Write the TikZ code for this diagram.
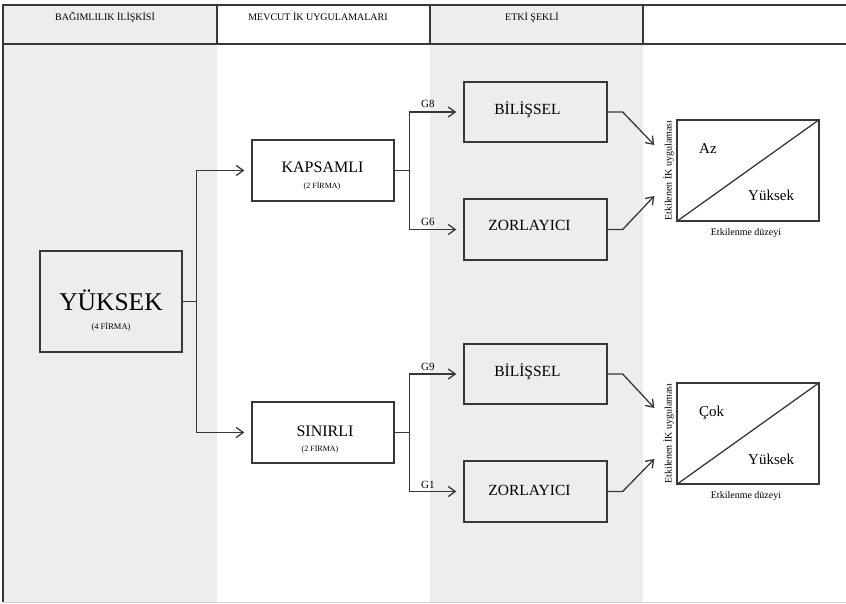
\documentclass[tikz,border=0pt]{standalone}
\usepackage{fontspec}
\setmainfont{Liberation Serif}
\usetikzlibrary{arrows.meta,calc}

\definecolor{ink}{HTML}{383838}
\definecolor{colbg}{HTML}{EDEDED}
\newcommand\setfs[1]{\fontsize{#1}{#1}\selectfont}

\begin{document}
\begin{tikzpicture}[x=1pt,y=-1pt,
  frame/.style={draw=ink, line width=1.3pt},
  box/.style={draw=ink, line width=1.3pt, rectangle, inner sep=0pt,
              minimum width=143pt, minimum height=61pt},
  conn/.style={draw=ink, line width=1.3pt,
               -{Straight Barb[length=7pt,width=10pt]}, shorten >=7pt},
  diag/.style={draw=ink, line width=1.3pt,
               -{Straight Barb[length=7pt,width=10pt]}},
  head/.style={anchor=base, inner sep=0pt, font=\setfs{10}},
  big/.style={anchor=base, inner sep=0pt, font=\setfs{15.5}},
  small/.style={anchor=base, inner sep=0pt, font=\setfs{8}},
  glabel/.style={anchor=base west, inner sep=0pt, font=\setfs{11}},
  chartword/.style={anchor=base west, inner sep=0pt, font=\setfs{15}},
  axis/.style={anchor=base, inner sep=0pt, font=\setfs{10}},
]
\useasboundingbox (0,0) rectangle (846,604);

% shaded columns
\fill[colbg] (3,5) rectangle (217,602);
\fill[colbg] (430,5) rectangle (643,602);

% table frame and header row
\draw[frame] (846,5) -- (3,5) -- (3,602);
\draw[frame] (3,44) -- (846,44);
\draw[frame] (217,5) -- (217,44);
\draw[frame] (430,5) -- (430,44);
\draw[frame] (643,5) -- (643,44);
\draw[draw=gray!35, line width=1pt] (3,602) -- (846,602);

\node[head] (h1) at (105,21) {BAĞIMLILIK İLİŞKİSİ};
\node[head] (h2) at (318,21) {MEVCUT İK UYGULAMALARI};
\node[head] (h3) at (532,21) {ETKİ ŞEKLİ};

% boxes
\node[box, minimum width=142pt, minimum height=101pt] (yuksek) at (111,301.5) {};
\node[box, minimum width=142pt] (kapsamli) at (323,170.5) {};
\node[box, minimum width=142pt] (sinirli) at (323,432.5) {};
\node[box, minimum height=60pt] (bil1) at (535.5,112) {};
\node[box] (zor1) at (535.5,229.5) {};
\node[box, minimum height=60pt] (bil2) at (535.5,374) {};
\node[box] (zor2) at (535.5,491.5) {};
\node[box, minimum width=142pt, minimum height=101pt] (chart1) at (748,170.5) {};
\node[box, minimum width=142pt, minimum height=101pt] (chart2) at (748,433.5) {};

% box texts
\node[anchor=base, inner sep=0pt, font=\setfs{25.5}] (tyuksek) at (111,310) {YÜKSEK};
\node[small, font=\setfs{8.5}] (tyuksekn) at (111,329) {(4 FİRMA)};
\node[big, font=\setfs{16}] (tkapsamli) at (322.5,172.5) {KAPSAMLI};
\node[small] (tkapsamlin) at (322,188.5) {(2 FİRMA)};
\node[big, font=\setfs{16}] (tsinirli) at (325,436) {SINIRLI};
\node[small] (tsinirlin) at (320,451.5) {(2 FİRMA)};
\node[big] (tbil1) at (527.5,114.5) {BİLİŞSEL};
\node[big] (tzor1) at (529.5,230.5) {ZORLAYICI};
\node[big] (tbil2) at (527.5,376.5) {BİLİŞSEL};
\node[big] (tzor2) at (529.5,495) {ZORLAYICI};

% connectors from YÜKSEK
\draw[conn] (yuksek.east) -- ++(14,0) coordinate (s1) |- (kapsamli.west);
\draw[conn] (s1) |- (sinirli.west);

% connectors from KAPSAMLI and SINIRLI
\draw[conn] (kapsamli.east) -- ++(15,0) coordinate (s2) |- (bil1.west);
\draw[conn] (s2) |- (zor1.west);
\draw[conn] (sinirli.east) -- ++(15,0) coordinate (s3) |- (bil2.west);
\draw[conn] (s3) |- (zor2.west);

\node[glabel] (g8) at (421,108) {G8};
\node[glabel] (g6) at (421,225.5) {G6};
\node[glabel] (g9) at (421,370) {G9};
\node[glabel] (g1) at (421,488) {G1};

% arrows into the charts
\coordinate (c1a) at ($(chart1.west)+(-22,-25.5)$);
\coordinate (c1b) at ($(chart1.west)+(-22,25.5)$);
\coordinate (c2a) at ($(chart2.west)+(-22,-25.5)$);
\coordinate (c2b) at ($(chart2.west)+(-22,25.5)$);
\draw[diag] (bil1.east) -- ++(15,0) -- (c1a);
\draw[diag] (zor1.east) -- ++(15,0) -- (c1b);
\draw[diag] (bil2.east) -- ++(15,0) -- (c2a);
\draw[diag] (zor2.east) -- ++(15,0) -- (c2b);

% charts
\draw[frame] (chart1.south west) -- (chart1.north east);
\draw[frame] (chart2.south west) -- (chart2.north east);

\node[chartword] (az) at (699,154) {Az};
\node[chartword] (yk1) at (748,201) {Yüksek};
\node[chartword] (cok) at (699,416) {Çok};
\node[chartword] (yk2) at (748,464) {Yüksek};

\node[axis] (x1) at (746,235.5) {Etkilenme düzeyi};
\node[axis] (x2) at (746,498) {Etkilenme düzeyi};
\node[axis, rotate=90] (y1) at (671.5,170.5) {Etkilenen İK uygulaması};
\node[axis, rotate=90] (y2) at (671.5,433.5) {Etkilenen İK uygulaması};
\end{tikzpicture}
\end{document}
